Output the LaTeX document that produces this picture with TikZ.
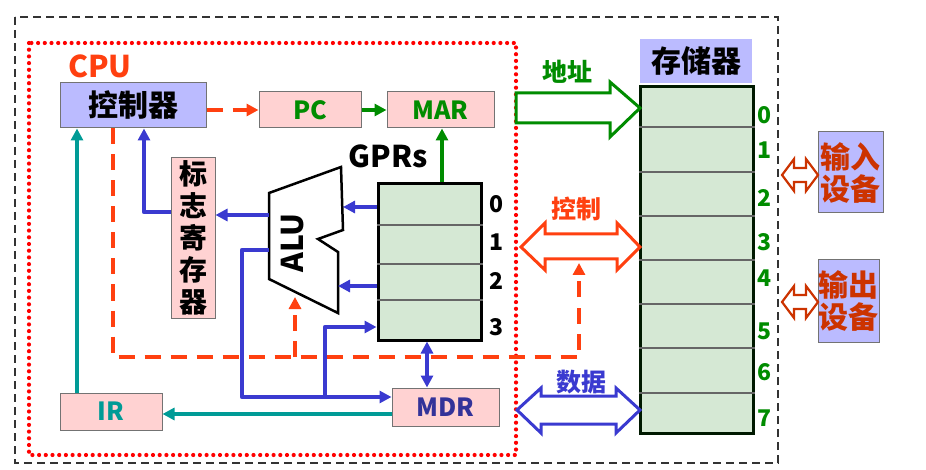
\documentclass[tikz,border=0pt]{standalone}
\usepackage{fontspec}
\setmainfont{Noto Sans CJK SC}
\usetikzlibrary{arrows.meta,calc}
\definecolor{ored}{HTML}{FF4010}
\definecolor{dgreen}{HTML}{008C00}
\definecolor{bblue}{HTML}{3A3AD0}
\definecolor{mdrtext}{HTML}{333399}
\definecolor{tteal}{HTML}{009B96}
\definecolor{pinkfill}{HTML}{FFD2D2}
\definecolor{lav}{HTML}{BBBBFF}
\definecolor{memfill}{HTML}{D5E8D4}
\definecolor{devc}{HTML}{CC3300}
\begin{document}
\begin{tikzpicture}[x=1pt,y=-1pt,
  box/.style={draw=black!55, line width=1pt, inner sep=0pt, font=\bfseries\fontsize{25}{27}\selectfont},
  pinkbox/.style={box, fill=pinkfill},
  lavbox/.style={box, fill=lav},
  tip/.style={-{Triangle[length=12pt,width=12pt]}},
  bline/.style={draw=bblue, line width=4.5pt, line join=round},
  tline/.style={draw=tteal, line width=4.5pt},
  gline/.style={draw=dgreen, line width=4.5pt},
  oline/.style={draw=ored, line width=4.5pt, dash pattern=on 16pt off 10pt},
  big/.style={font=\bfseries\fontsize{30}{32}\selectfont},
  mid/.style={font=\bfseries\fontsize{25}{27}\selectfont},
  num/.style={font=\bfseries\fontsize{23}{24}\selectfont},
  hollow/.style={line width=3pt, fill=white, line join=miter},
]
\useasboundingbox (0,0) rectangle (926,470);
% frames
\draw[black!80, line width=2.4pt, dash pattern=on 8pt off 5pt] (15,17) rectangle (778,463);
\draw[red, line width=4.2pt, line cap=round, dash pattern=on 0pt off 6.7pt] (29,43) rectangle (516,455);
\node[text=ored, font=\bfseries\fontsize{30}{31}\selectfont] (cpu) at (100,66) {CPU};

% boxes
\node[lavbox, minimum width=146pt, minimum height=45pt, big] (ctrl) at (133,105.5) {控制器};
\node[pinkbox, minimum width=102pt, minimum height=36pt, text=dgreen] (pc) at (310,110) {PC};
\node[pinkbox, minimum width=107pt, minimum height=36pt, text=dgreen] (mar) at (440.5,110) {MAR};
\node[pinkbox, minimum width=44pt, minimum height=160pt, align=center, font=\bfseries\fontsize{28}{32}\selectfont] (flag) at (193,238) {标\\志\\寄\\存\\器};
\node[draw=black, line width=3pt, fill=memfill, minimum width=103pt, minimum height=156pt, inner sep=0pt] (gpr) at (429.5,262) {};
\foreach \yy in {225,264,300} \draw[black!60, line width=1.5pt] (gpr.west |- 0,\yy) -- (gpr.east |- 0,\yy);
\node[font=\bfseries\fontsize{30}{32}\selectfont] (gprs) at (388,156) {GPRs};
\foreach \n/\yy in {0/204,1/242,2/281,3/327} \node[num] (g\n) at (496,\yy) {\n};
\node[pinkbox, minimum width=107pt, minimum height=38pt, text=mdrtext] (mdr) at (445.5,407) {MDR};
\node[pinkbox, minimum width=102pt, minimum height=37pt, text=tteal] (ir) at (111,411.5) {IR};

% ALU
\draw[black, line width=2.5pt, line join=miter] (269,193) -- (341,167) -- (343,230) -- (318,239) -- (338,252) -- (338,313) -- (269,279) -- cycle;
\node[rotate=90, font=\bfseries\fontsize{30}{32}\selectfont] (alu) at (293,243) {ALU};
\coordinate (aluR1) at (343,207);
\coordinate (aluR2) at (338,286);
\coordinate (aluL1) at (269,215);
\coordinate (aluL2) at (269,250);
\coordinate (aluB) at (295,297);

% memory
\node[fill=lav, minimum width=112pt, minimum height=44pt, big, inner sep=0pt] (memlab) at (696,61) {存储器};
\node[draw=black!90!green, line width=3pt, fill=memfill, minimum width=113pt, minimum height=346pt, inner sep=0pt] (mem) at (696.5,260) {};
\foreach \yy in {127,172,216,260,304,348,393} \draw[black!60, line width=1.5pt] (mem.west |- 0,\yy) -- (mem.east |- 0,\yy);
\foreach \n/\yy in {0/115,1/150,2/198,3/242,4/278,5/331,6/372,7/418} \node[num, text=dgreen] (m\n) at (764,\yy) {\n};

% devices
\node[lavbox, minimum width=65pt, minimum height=81pt, align=center, text=devc, font=\bfseries\fontsize{30}{32}\selectfont] (indev) at (850.5,172.5) {输入\\设备};
\node[lavbox, minimum width=61pt, minimum height=82pt, align=center, text=devc, font=\bfseries\fontsize{30}{32}\selectfont] (outdev) at (848.5,301) {输出\\设备};

% connectors
\draw[oline, tip] (ctrl.east |- pc.west) -- (pc.west);
\draw[gline, tip] (pc.east) -- (mar.west);
\draw[gline, tip] (gpr.north -| 442,0) -- (mar.south -| 442,0);
\draw[bline, tip] (gpr.west |- aluR1) -- (aluR1);
\draw[bline, tip] (gpr.west |- aluR2) -- (aluR2);
\draw[bline, tip] (aluL1) -- (flag.east |- aluL1);
\draw[bline, tip] (flag.west |- 0,212) -| ([xshift=11pt]ctrl.south);
\draw[bline, tip] (aluL2) -| (242,397) -- ([yshift=10pt]mdr.west);
\draw[bline, tip] (325,397) |- (gpr.west |- 0,327);
\draw[bline, {Triangle[length=12pt,width=12pt]}-{Triangle[length=12pt,width=12pt]}] (gpr.south -| 427,0) -- (mdr.north -| 427,0);
\draw[tline, tip] (mdr.west |- 0,414) -- (ir.east |- 0,414);
\draw[tline, tip] (ir.north -| 77,0) -- (ctrl.south -| 77,0);
\coordinate (ctlArr) at (579,263);
\draw[oline, tip] (ctrl.south -| 113,0) -- (113,357) -- (579,357) -- (ctlArr);
\draw[oline, tip] (295,357) -- (aluB);

% bus arrows
\draw[hollow, draw=dgreen] (516,93) -- (610,93) -- (610,82) -- (640,108) -- (610,137) -- (610,123) -- (516,123) -- cycle;
\node[mid, text=dgreen] (addr) at (567,72) {地址};
\draw[hollow, draw=ored] (521,247) -- (545,223) -- (545,234) -- (617,234) -- (617,223) -- (640,247) -- (617,270) -- (617,259) -- (545,259) -- (545,270) -- cycle;
\node[mid, text=ored] (ctlb) at (576,209) {控制};
\draw[hollow, draw=bblue] (517,410) -- (541,388) -- (541,396) -- (616,396) -- (616,388) -- (640,410) -- (616,433) -- (616,424) -- (541,424) -- (541,433) -- cycle;
\node[mid, text=bblue] (datab) at (581,382) {数据};
\foreach \yy in {175,302}
  \draw[hollow, draw=devc, line width=2.2pt] (782,\yy) -- (794,\yy-16) -- (794,\yy-7) -- (806,\yy-7) -- (806,\yy-16) -- (818,\yy) -- (806,\yy+16) -- (806,\yy+7) -- (794,\yy+7) -- (794,\yy+16) -- cycle;
\end{tikzpicture}
\end{document}
